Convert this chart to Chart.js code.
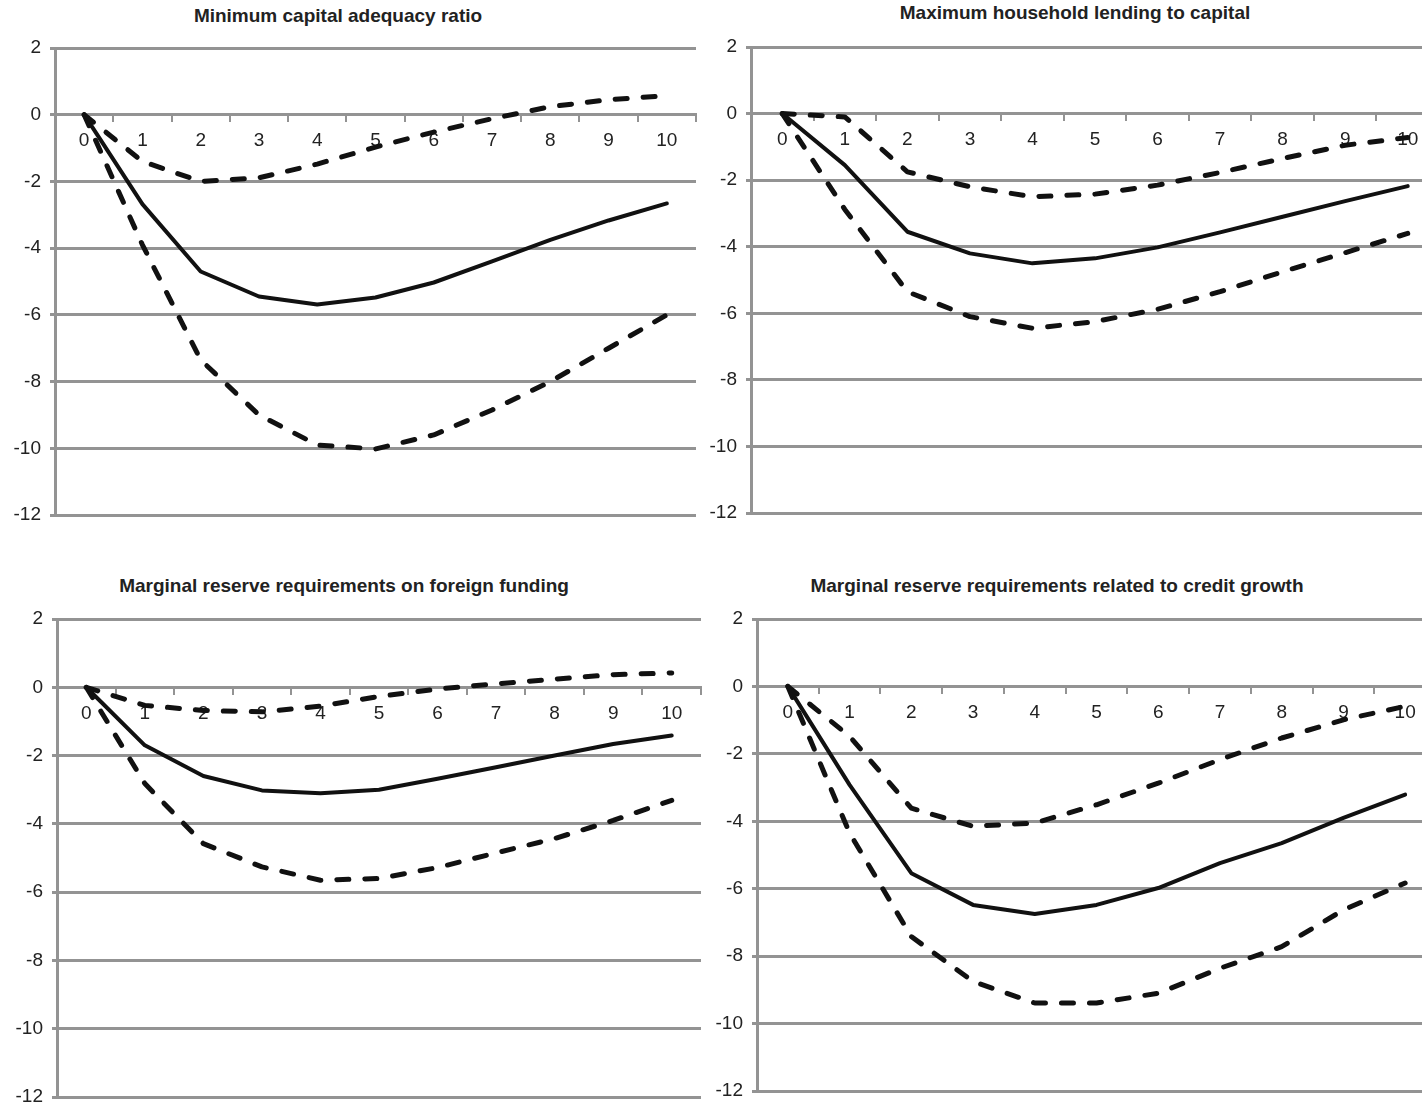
<!DOCTYPE html>
<html>
<head>
<meta charset="utf-8">
<script src="https://cdn.jsdelivr.net/npm/chart.js@4.4.1/dist/chart.umd.min.js"></script>
<style>
  html, body { margin: 0; padding: 0; background: #fff; width: 1422px; height: 1104px; overflow: hidden; position: relative; }
  canvas { position: absolute; }
  .ttl { position: absolute; font: bold 19px "Liberation Sans Narrow", "Arial Narrow", sans-serif; line-height: 20px;
         color: #222; white-space: nowrap; transform: translateX(-50%); }
</style>
</head>
<body>
<script>
// horizon (quarters after the shock)
const horizons = ['0','1','2','3','4','5','6','7','8','9','10'];

// Minimum capital adequacy ratio
const carUpper = [0, -1.40, -2.00, -1.89, -1.48, -0.97, -0.52, -0.12, 0.24, 0.45, 0.57];
const carMid   = [0, -2.68, -4.70, -5.45, -5.69, -5.48, -5.03, -4.40, -3.75, -3.17, -2.66];
const carLower = [0, -3.90, -7.35, -9.00, -9.90, -10.02, -9.60, -8.85, -8.00, -7.00, -6.00];

// Maximum household lending to capital
const hhUpper = [0, -0.10, -1.75, -2.20, -2.50, -2.42, -2.15, -1.77, -1.35, -0.95, -0.72];
const hhMid   = [0, -1.55, -3.55, -4.20, -4.50, -4.35, -4.02, -3.57, -3.10, -2.63, -2.18];
const hhLower = [0, -2.88, -5.35, -6.10, -6.45, -6.25, -5.88, -5.35, -4.75, -4.18, -3.60];

// Marginal reserve requirements on foreign funding
const ffUpper = [0, -0.53, -0.68, -0.72, -0.55, -0.27, -0.05, 0.10, 0.24, 0.37, 0.42];
const ffMid   = [0, -1.70, -2.60, -3.02, -3.10, -3.00, -2.68, -2.34, -2.00, -1.66, -1.41];
const ffLower = [0, -2.82, -4.58, -5.26, -5.65, -5.60, -5.28, -4.85, -4.43, -3.90, -3.31];

// Marginal reserve requirements related to credit growth
const cgUpper = [0, -1.48, -3.61, -4.15, -4.05, -3.51, -2.87, -2.17, -1.53, -0.99, -0.59];
const cgMid   = [0, -2.92, -5.54, -6.48, -6.75, -6.48, -5.98, -5.24, -4.65, -3.90, -3.21];
const cgLower = [0, -4.35, -7.42, -8.75, -9.39, -9.39, -9.10, -8.36, -7.72, -6.63, -5.83];

const yMin = -12, yMax = 2, yStep = 2;

const GRID = '#939393';
const INK = '#111';
const FONT = '"Liberation Sans Narrow", "Arial Narrow", sans-serif';
const Y_W = 50;     // fixed width of the y axis block
const PAD_T = 24, PAD_B = 26, PAD_R = 4;

// plot boxes in page pixels (left, right, top, bottom of the plot area)
const panels = [
  {title: 'Minimum capital adequacy ratio', upper: carUpper, mid: carMid, lower: carLower,
   box: {L: 55, R: 696, T: 48, B: 515}, tx: 338, ty: 6},
  {title: 'Maximum household lending to capital', upper: hhUpper, mid: hhMid, lower: hhLower,
   box: {L: 751, R: 1439, T: 47, B: 513}, tx: 1075, ty: 3},
  {title: 'Marginal reserve requirements on foreign funding', upper: ffUpper, mid: ffMid, lower: ffLower,
   box: {L: 57, R: 701, T: 619, B: 1097}, tx: 344, ty: 576},
  {title: 'Marginal reserve requirements related to credit growth', upper: cgUpper, mid: cgMid, lower: cgLower,
   box: {L: 757, R: 1436, T: 619, B: 1091}, tx: 1057, ty: 576}
];

function dashed(data) {
  return {data: data, borderColor: INK, borderWidth: 5, borderDash: [12, 16], borderCapStyle: 'round',
          borderJoinStyle: 'round', pointRadius: 0, tension: 0, fill: false};
}

function makePanel(p, i) {
  const t = document.createElement('div');
  t.className = 'ttl';
  t.textContent = p.title;
  t.style.left = p.tx + 'px';
  t.style.top = p.ty + 'px';
  document.body.appendChild(t);

  const b = p.box;
  const cv = document.createElement('canvas');
  const left = b.L - Y_W, top = b.T - PAD_T;
  const w = b.R - left + PAD_R, h = b.B - b.T + PAD_T + PAD_B;
  cv.id = 'chart' + i;
  cv.width = w; cv.height = h;
  cv.style.left = left + 'px'; cv.style.top = top + 'px';
  cv.style.width = w + 'px'; cv.style.height = h + 'px';
  document.body.appendChild(cv);

  new Chart(cv.getContext('2d'), {
    type: 'line',
    data: {
      labels: horizons,
      datasets: [
        dashed(p.upper),
        {data: p.mid, borderColor: INK, borderWidth: 4, borderJoinStyle: 'round', borderCapStyle: 'round',
         pointRadius: 0, tension: 0, fill: false},
        dashed(p.lower)
      ]
    },
    options: {
      responsive: false,
      animation: false,
      layout: {padding: {top: PAD_T, bottom: PAD_B, left: 0, right: PAD_R}},
      plugins: {legend: {display: false}, tooltip: {enabled: false}},
      scales: {
        x: {
          type: 'category',
          position: {y: 0},
          offset: true,
          grid: {drawOnChartArea: false, drawTicks: true, tickLength: 6, offset: true, color: GRID, lineWidth: 2},
          border: {display: true, color: GRID, width: 3},
          ticks: {color: '#222', font: {family: FONT, size: 19}, padding: 9, maxRotation: 0, autoSkip: false}
        },
        y: {
          min: yMin, max: yMax,
          ticks: {stepSize: yStep, color: '#222', font: {family: FONT, size: 19}, padding: 9},
          grid: {color: GRID, lineWidth: 3, drawTicks: true, tickLength: 5},
          border: {display: true, color: GRID, width: 3},
          afterFit: s => { s.width = Y_W; }
        }
      }
    }
  });
}

panels.forEach(makePanel);
</script>
</body>
</html>
